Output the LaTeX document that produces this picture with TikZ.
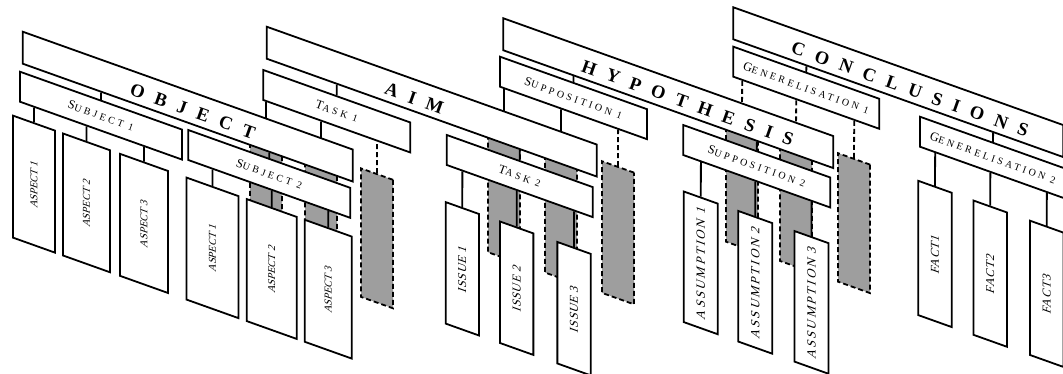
\documentclass[tikz,border=0pt]{standalone}
\usepackage{fontspec}
\setmainfont{Liberation Serif}
\usepackage{graphicx}
\usepackage{tikz}

\newcommand{\tie}[3][link]{\draw[#1] (#2.north) -- (intersection of #2.north--#2.center and #3.south west--#3.south east);}
\newcommand{\lowcaps}[1]{{\fontsize{10}{10}\selectfont #1}}

\tikzset{
  bar/.style={draw, fill=white, line width=1.8pt, transform shape, inner sep=0pt},
  topbar/.style={bar, minimum width=330, minimum height=32},
  subbar/.style={bar, minimum height=30},
  toplbl/.style={rotate=-19.65, inner sep=0pt, font=\fontsize{18.5}{18.5}\selectfont\bfseries\addfontfeature{LetterSpace=62}},
  sublbl/.style={rotate=-19.65, inner sep=0pt, font=\fontsize{12.5}{12.5}\selectfont\addfontfeature{LetterSpace=30}},
  leaf/.style={bar, font=\fontsize{12}{12}\selectfont\addfontfeature{LetterSpace=6}},
  tightleaf/.style={bar, font=\fontsize{10.5}{10.5}\selectfont},
  wideleaf/.style={bar, font=\fontsize{12.5}{12.5}\selectfont\addfontfeature{LetterSpace=18}},
  hidden/.style={draw, fill=black!38, line width=1.8pt, dash pattern=on 5pt off 3pt, transform shape, inner sep=0pt, minimum width=32},
  link/.style={line width=1.8pt},
  hidlink/.style={line width=1.8pt, dash pattern=on 5pt off 3pt}
}

\begin{document}
\begin{tikzpicture}[x=1pt,y=1pt]
\useasboundingbox (0,0) rectangle (1063,-374);
\begin{scope}[cm={1,-0.357,0,1,(0,0)}]

% conclusions
\node[topbar] (conc) at (898.3,238.5) {};
\node[toplbl] (conct) at (910,235.5) {CONCLUSIONS};
\node[subbar, minimum width=146] (gen1) at (806.3,200.1) {};
\node[sublbl] (gen1t) at (gen1.center) {G\lowcaps{ENERELISATION 1}};
\node[subbar, minimum width=146] (gen2) at (993,196.7) {};
\node[sublbl] (gen2t) at (gen2.center) {G\lowcaps{ENERELISATION 2}};
\tie{gen1}{conc}
\tie{gen2}{conc}
\node[hidden, minimum height=128.5] (gen1a) at (742,81.75) {};
\node[hidden, minimum height=128.5] (gen1b) at (796,81.75) {};
\node[hidden, minimum height=128.5] (gen1c) at (854,81.75) {};
\tie[hidlink]{gen1a}{gen1}
\tie[hidlink]{gen1b}{gen1}
\tie[hidlink]{gen1c}{gen1}
\node[leaf, minimum width=33.5, minimum height=134.3] (fact1) at (935,79.85) {\rotatebox{90}{FACT1}};
\node[leaf, minimum width=33.5, minimum height=134.3] (fact2) at (990.2,79.85) {\rotatebox{90}{FACT2}};
\node[leaf, minimum width=33.5, minimum height=134.3] (fact3) at (1046.7,79.85) {\rotatebox{90}{FACT3}};
\tie{fact1}{gen2}
\tie{fact2}{gen2}
\tie{fact3}{gen2}

% hypothesis
\node[topbar] (hyp) at (668.3,145.4) {};
\node[toplbl] (hypt) at (687.7,142.4) {HYPOTHESIS};
\node[subbar, minimum width=147] (sup1) at (573.5,106.8) {};
\node[sublbl] (sup1t) at (sup1.center) {S\lowcaps{UPPOSITION 1}};
\node[subbar, minimum width=147] (sup2) at (756.8,103.9) {};
\node[sublbl] (sup2t) at (sup2.center) {S\lowcaps{UPPOSITION 2}};
\tie{sup1}{hyp}
\tie{sup2}{hyp}
\node[hidden, minimum height=131.7] (sup1a) at (504,-12.15) {};
\node[hidden, minimum height=131.7] (sup1b) at (561,-12.15) {};
\node[hidden, minimum height=131.7] (sup1c) at (618,-12.15) {};
\tie{sup1a}{sup1}
\tie{sup1b}{sup1}
\tie[hidlink]{sup1c}{sup1}
\node[wideleaf, minimum width=34, minimum height=130.6] (ass1) at (700.8,-12.7) {\rotatebox{90}{ASSUMPTION 1}};
\node[wideleaf, minimum width=34, minimum height=130.6] (ass2) at (755.2,-12.7) {\rotatebox{90}{ASSUMPTION 2}};
\node[wideleaf, minimum width=34, minimum height=130.6] (ass3) at (811.5,-12.7) {\rotatebox{90}{ASSUMPTION 3}};
\tie{ass1}{sup2}
\tie{ass2}{sup2}
\tie{ass3}{sup2}

% aim
\node[topbar] (aim) at (431.7,52.5) {};
\node[toplbl] (aimt) at (414.3,49.5) {AIM};
\node[subbar, minimum width=147] (task1) at (336.8,9) {};
\node[sublbl] (task1t) at (task1.center) {T\lowcaps{ASK 1}};
\node[subbar, minimum width=146] (task2) at (519.7,9.5) {};
\node[sublbl] (task2t) at (task2.center) {T\lowcaps{ASK 2}};
\tie{task1}{aim}
\tie{task2}{aim}
\node[hidden, minimum height=128.5] (task1a) at (266,-103.75) {};
\node[hidden, minimum height=128.5] (task1b) at (321,-103.75) {};
\node[hidden, minimum height=128.5] (task1c) at (377,-103.75) {};
\tie{task1a}{task1}
\tie{task1b}{task1}
\tie[hidlink]{task1c}{task1}
\node[leaf, minimum width=33.3, minimum height=121.5] (iss1) at (462.3,-103.75) {\rotatebox{90}{ISSUE 1}};
\node[leaf, minimum width=33.3, minimum height=121.5] (iss2) at (516.7,-103.75) {\rotatebox{90}{ISSUE 2}};
\node[leaf, minimum width=33.3, minimum height=121.5] (iss3) at (574,-103.75) {\rotatebox{90}{ISSUE 3}};
\tie{iss1}{task2}
\tie{iss2}{task2}
\tie{iss3}{task2}

% object
\node[topbar] (obj) at (187.7,-39.6) {};
\node[toplbl] (objt) at (192.7,-42.6) {OBJECT};
\node[subbar, minimum width=162] (subj1) at (101,-79.6) {};
\node[sublbl] (subj1t) at (subj1.center) {S\lowcaps{UBJECT 1}};
\node[subbar, minimum width=162] (subj2) at (269.3,-77.8) {};
\node[sublbl] (subj2t) at (subj2.center) {S\lowcaps{UBJECT 2}};
\tie{subj1}{obj}
\tie{subj2}{obj}
\node[tightleaf, minimum width=42, minimum height=122] (asp1a) at (34,-172) {\rotatebox{90}{ASPECT 1}};
\node[tightleaf, minimum width=47, minimum height=122] (asp1b) at (86.5,-172) {\rotatebox{90}{ASPECT 2}};
\node[tightleaf, minimum width=48, minimum height=122] (asp1c) at (144,-172) {\rotatebox{90}{ASPECT 3}};
\tie{asp1a}{subj1}
\tie{asp1b}{subj1}
\tie{asp1c}{subj1}
\node[tightleaf, minimum width=52, minimum height=122] (asp2a) at (212.5,-172) {\rotatebox{90}{ASPECT 1}};
\node[tightleaf, minimum width=50, minimum height=122] (asp2b) at (271.7,-172) {\rotatebox{90}{ASPECT 2}};
\node[tightleaf, minimum width=47, minimum height=122] (asp2c) at (328.3,-172) {\rotatebox{90}{ASPECT 3}};
\tie{asp2a}{subj2}
\tie{asp2b}{subj2}
\tie{asp2c}{subj2}

\end{scope}
\end{tikzpicture}
\end{document}
